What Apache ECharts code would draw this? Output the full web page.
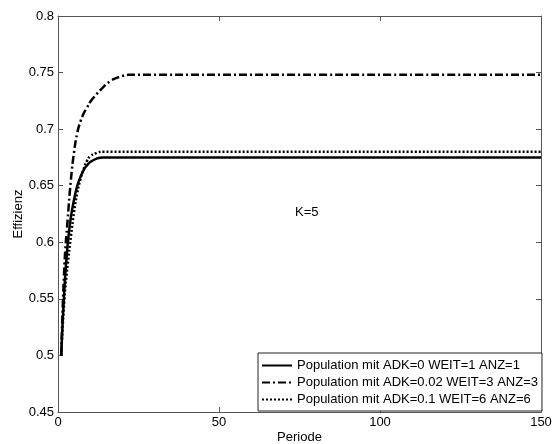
<!DOCTYPE html>
<html>
<head>
<meta charset="utf-8">
<style>
  html, body { margin: 0; padding: 0; background: #fff; }
  #chart { width: 552px; height: 444px; }
</style>
<script src="https://cdn.jsdelivr.net/npm/echarts@6/dist/echarts.min.js"></script>
</head>
<body>
<div id="chart"></div>
<script>
// Efficiency over periods for three population settings (K=5)
const seriesNames = [
  'Population mit ADK=0 WEIT=1 ANZ=1',
  'Population mit ADK=0.02 WEIT=3 ANZ=3',
  'Population mit ADK=0.1 WEIT=6 ANZ=6'
];

const periodA = [1, 2, 3, 4, 5, 6, 7, 8, 9, 10, 12, 14, 150];
const effA    = [0.5, 0.56, 0.598, 0.622, 0.638, 0.65, 0.658, 0.664, 0.668, 0.671, 0.674, 0.675, 0.675];

const periodB = [1, 2, 3, 4, 5, 6, 7, 8, 9, 10, 12, 14, 16, 18, 20, 22, 150];
const effB    = [0.5, 0.58, 0.62, 0.655, 0.68, 0.697, 0.707, 0.714, 0.719, 0.724, 0.731, 0.737, 0.742, 0.745, 0.747, 0.748, 0.748];

const periodC = [1, 2, 3, 4, 5, 6, 7, 8, 9, 10, 12, 14, 150];
const effC    = [0.5, 0.55, 0.58, 0.605, 0.627, 0.644, 0.656, 0.665, 0.672, 0.676, 0.679, 0.68, 0.68];

const xTicks = { min: 0, max: 150, interval: 50 };
const yTicks = { min: 0.45, max: 0.8, interval: 0.05 };

const pairs = (xs, ys) => xs.map((x, i) => [x, ys[i]]);

const axisColor = '#555';
const font = 'Liberation Sans, Arial, sans-serif';
const fs = 13;

function frameAxis(base, position, showLabels, extra) {
  return Object.assign({
    type: 'value',
    position: position,
    min: base.min,
    max: base.max,
    interval: base.interval,
    axisLine: { show: true, onZero: false, lineStyle: { color: axisColor, width: 1 } },
    axisTick: { show: true, inside: true, length: 5, lineStyle: { color: axisColor } },
    axisLabel: { show: showLabels, color: '#000', fontSize: fs, fontFamily: font },
    splitLine: { show: false }
  }, extra || {});
}

const chart = echarts.init(document.getElementById('chart'), null, { renderer: 'canvas' });

chart.setOption({
  animation: false,
  backgroundColor: '#fff',
  grid: { left: 58, right: 11, top: 16, bottom: 32, containLabel: false, outerBoundsMode: 'none' },
  xAxis: [
    frameAxis(xTicks, 'bottom', true, {
      name: 'Periode', nameLocation: 'middle', nameGap: 19, nameMoveOverlap: false,
      nameTextStyle: { color: '#000', fontSize: fs, fontFamily: font },
      axisLabel: { show: true, color: '#000', fontSize: fs, fontFamily: font, margin: 4 }
    }),
    frameAxis(xTicks, 'top', false)
  ],
  yAxis: [
    frameAxis(yTicks, 'left', true, {
      name: 'Effizienz', nameLocation: 'middle', nameGap: 33, nameMoveOverlap: false,
      nameTextStyle: { color: '#000', fontSize: fs, fontFamily: font },
      axisLabel: {
        show: true, color: '#000', fontSize: fs, fontFamily: font, margin: 4,
        formatter: v => String(+v.toFixed(2))
      }
    }),
    frameAxis(yTicks, 'right', false)
  ],
  legend: {
    orient: 'vertical',
    left: 258,
    top: 353,
    backgroundColor: '#fff',
    borderColor: '#222',
    borderWidth: 1,
    borderRadius: 0,
    padding: [6, 4, 5, 3],
    itemWidth: 30,
    itemHeight: 13,
    itemGap: 4,
    itemStyle: { opacity: 0 },
    textStyle: { color: '#000', fontSize: fs, fontFamily: font },
    data: seriesNames
  },
  graphic: [{
    type: 'text',
    left: 295,
    top: 206,
    style: { text: 'K=5', fill: '#000', fontSize: fs, fontFamily: font }
  }],
  series: [
    {
      name: seriesNames[0], type: 'line', symbol: 'none', smooth: true,
      data: pairs(periodA, effA),
      lineStyle: { color: '#000', width: 2.5, type: 'solid' },
      itemStyle: { color: '#000' }
    },
    {
      name: seriesNames[1], type: 'line', symbol: 'none', smooth: true,
      data: pairs(periodB, effB),
      lineStyle: { color: '#000', width: 2.5, type: [8, 3, 2, 3] },
      itemStyle: { color: '#000' }
    },
    {
      name: seriesNames[2], type: 'line', symbol: 'none', smooth: true,
      data: pairs(periodC, effC),
      lineStyle: { color: '#000', width: 2.5, type: [2, 2] },
      itemStyle: { color: '#000' }
    }
  ]
});
</script>
</body>
</html>
